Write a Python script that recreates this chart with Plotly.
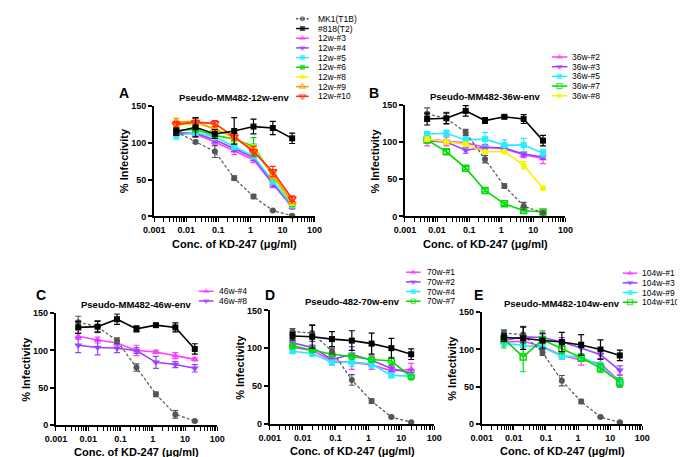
import plotly.graph_objects as go

W, H = 685, 457
FONT = "Liberation Sans"

# ---------------- data ----------------
conc = [0.0049, 0.0195, 0.078, 0.3125, 1.25, 5, 20]

mk1_a = [115, 101, 88, 52, 27, 8, 1]
mk1_a_err = [4, 2, 8, 3, 3, 1, 1]
t2_a = [115, 121, 112, 116, 122, 120, 106]
t2_a_err = [5, 13, 6, 18, 10, 9, 7]

mk1_bc = [138, 132, 113, 77, 41, 14, 5]
mk1_bc_err = [8, 8, 4, 5, 3, 5, 1]
t2_bc = [131, 132, 142, 129, 134, 131, 102]
t2_bc_err = [8, 7, 7, 4, 2, 6, 7]

mk1_de = [122, 120, 96, 58, 30, 9, 2]
mk1_de_err = [4, 11, 4, 7, 3, 1, 1]
t2_de = [116, 115, 112, 110, 106, 100, 92]
t2_de_err = [5, 15, 10, 13, 14, 13, 7]

w12_3 = [113, 112, 101, 89, 77, 44, 13]
w12_3_err = [4, 4, 4, 5, 4, 5, 3]
w12_4 = [114, 113, 104, 92, 80, 45, 14]
w12_4_err = [4, 4, 4, 4, 4, 5, 3]
w12_5 = [110, 114, 108, 95, 82, 48, 15]
w12_5_err = [5, 4, 4, 4, 4, 4, 3]
w12_6 = [117, 118, 110, 105, 95, 55, 17]
w12_6_err = [4, 4, 4, 6, 12, 5, 3]
w12_8 = [124, 126, 120, 106, 92, 56, 18]
w12_8_err = [4, 4, 4, 5, 5, 5, 3]
w12_9 = [128, 129, 118, 108, 90, 57, 20]
w12_9_err = [5, 4, 4, 4, 5, 5, 3]
w12_10 = [125, 128, 126, 108, 88, 61, 24]
w12_10_err = [4, 5, 4, 4, 7, 7, 4]

w36_2 = [104, 101, 99, 93, 91, 83, 78]
w36_2_err = [9, 6, 6, 4, 3, 4, 7]
w36_3 = [102, 100, 89, 93, 92, 84, 80]
w36_3_err = [3, 3, 4, 3, 3, 3, 3]
w36_5 = [111, 112, 103, 104, 96, 96, 85]
w36_5_err = [3, 4, 5, 9, 7, 9, 5]
w36_7 = [103, 87, 65, 35, 17, 8, 6]
w36_7_err = [2, 3, 2, 2, 2, 2, 1]
w36_8 = [104, 100, 97, 87, 87, 69, 38]
w36_8_err = [3, 3, 3, 2, 2, 5, 2]

w46_4 = [119, 114, 110, 100, 98, 93, 88]
w46_4_err = [4, 4, 3, 7, 2, 4, 2]
w46_8 = [107, 104, 103, 100, 84, 81, 76]
w46_8_err = [10, 10, 6, 4, 8, 4, 5]

w70_1 = [101, 97, 83, 81, 78, 70, 72]
w70_1_err = [4, 6, 5, 9, 6, 5, 8]
w70_2 = [107, 101, 85, 92, 84, 73, 67]
w70_2_err = [3, 3, 4, 10, 6, 4, 5]
w70_4 = [96, 93, 81, 82, 79, 64, 63]
w70_4_err = [3, 4, 3, 6, 5, 3, 3]
w70_7 = [103, 98, 92, 89, 85, 83, 62]
w70_7_err = [2, 3, 2, 2, 3, 5, 3]

w104_1 = [110, 111, 104, 92, 86, 81, 57]
w104_1_err = [4, 6, 4, 5, 7, 6, 8]
w104_3 = [112, 117, 116, 110, 102, 93, 72]
w104_3_err = [3, 4, 5, 6, 8, 6, 6]
w104_9 = [108, 106, 103, 91, 90, 78, 56]
w104_9_err = [3, 3, 3, 4, 4, 5, 6]
w104_10 = [114, 90, 113, 101, 89, 75, 56]
w104_10_err = [12, 20, 12, 7, 5, 6, 6]

x_decades = [0.001, 0.01, 0.1, 1, 10, 100]
x_decade_text = ["0.001", "0.01", "0.1", "1", "10", "100"]
y_tickvals = [0, 50, 100, 150]

# ---------------- styles ----------------
GRAY, BLACK = "#555555", "#000000"
MAG, PUR, CYA, GRN, YEL, ORA, RED = ("#FF40FF", "#9A40FF", "#22EEFF", "#00DD00",
                                     "#F5F500", "#FF9A00", "#FF3010")
ST = {
    "mk1": (GRAY, "circle", "3px,2px"),
    "t2": (BLACK, "square", "solid"),
    "mag": (MAG, "triangle-up", "solid"),
    "pur": (PUR, "triangle-down", "solid"),
    "cya": (CYA, "square", "solid"),
    "grn": (GRN, "square", "solid"),
    "grn_os": (GRN, "square-open", "solid"),
    "grn_oc": (GRN, "circle-open", "solid"),
    "yel": (YEL, "circle", "solid"),
    "ora": (ORA, "triangle-up-open", "solid"),
    "red": (RED, "triangle-down-open", "solid"),
}

panels = [
    ("", (139, 304, 95, 208), "Pseudo-MM482-12w-env", "A",
     [("12w-#3", w12_3, w12_3_err, "mag"), ("12w-#4", w12_4, w12_4_err, "pur"),
      ("12w-#5", w12_5, w12_5_err, "cya"), ("12w-#6", w12_6, w12_6_err, "grn"),
      ("12w-#8", w12_8, w12_8_err, "yel"), ("12w-#9", w12_9, w12_9_err, "ora"),
      ("12w-#10", w12_10, w12_10_err, "red"),
      ("MK1(T1B)", mk1_a, mk1_a_err, "mk1"), ("#818(T2)", t2_a, t2_a_err, "t2")],
     (285, 298, 305, 6, True)),
    ("2", (397, 562, 94, 208), "Pseudo-MM482-36w-env", "B",
     [("36w-#2", w36_2, w36_2_err, "mag"), ("36w-#3", w36_3, w36_3_err, "pur"),
      ("36w-#5", w36_5, w36_5_err, "cya"), ("36w-#7", w36_7, w36_7_err, "grn_os"),
      ("36w-#8", w36_8, w36_8_err, "yel"),
      ("MK1(T1B)", mk1_bc, mk1_bc_err, "mk1"), ("#818(T2)", t2_bc, t2_bc_err, "t2")],
     (548, 564, 567, 45, False)),
    ("3", (38, 204, 307, 421), "Pseudo-MM482-46w-env", "C",
     [("46w-#4", w46_4, w46_4_err, "mag"), ("46w-#8", w46_8, w46_8_err, "pur"),
      ("MK1(T1B)", mk1_bc, mk1_bc_err, "mk1"), ("#818(T2)", t2_bc, t2_bc_err, "t2")],
     (185, 200, 204, 284.5, False)),
    ("4", (258, 427, 304, 420), "Pseudo-482-70w-env", "D",
     [("70w-#1", w70_1, w70_1_err, "mag"), ("70w-#2", w70_2, w70_2_err, "pur"),
      ("70w-#4", w70_4, w70_4_err, "cya"), ("70w-#7", w70_7, w70_7_err, "grn_oc"),
      ("MK1(T1B)", mk1_de, mk1_de_err, "mk1"), ("#818(T2)", t2_de, t2_de_err, "t2")],
     (398, 413, 418, 265, False)),
    ("5", (476, 641, 306, 420), "Pseudo-MM482-104w-env", "E",
     [("104w-#1", w104_1, w104_1_err, "mag"), ("104w-#3", w104_3, w104_3_err, "pur"),
      ("104w-#9", w104_9, w104_9_err, "cya"), ("104w-#10", w104_10, w104_10_err, "grn_os"),
      ("MK1(T1B)", mk1_de, mk1_de_err, "mk1"), ("#818(T2)", t2_de, t2_de_err, "t2")],
     (621, 636, 639, 266, False)),
]
letter_pos = {"A": (108, 82), "B": (365, 82), "C": (23, 288), "D": (258, 288), "E": (473, 288)}


def px(x):
    return x / W


def py(y):
    return 1 - y / H


# decade ticks labelled, minor ticks (2..9 per decade) unlabelled
x_tickvals, x_ticktext = [], []
for k, (d, t) in enumerate(zip(x_decades, x_decade_text)):
    x_tickvals.append(d)
    x_ticktext.append(t)
    if k < len(x_decades) - 1:
        for m in range(2, 10):
            x_tickvals.append(d * m)
            x_ticktext.append("")

fig = go.Figure()
layout = dict(width=W, height=H, autosize=False, margin=dict(l=0, r=0, t=0, b=0),
              paper_bgcolor="white", plot_bgcolor="rgba(0,0,0,0)", showlegend=False)
annotations = []
tick_font = dict(family=FONT, size=9, color="black", weight="bold")
title_font = dict(family=FONT, size=11, color="black", weight="bold")

for suf, (x0, x1, yt, yb), title, letter, series, leg in panels:
    xa, ya = "x" + suf, "y" + suf
    layout["xaxis" + suf] = dict(
        type="log", range=[-3, 2], domain=[px(x0), px(x1)], anchor=ya,
        showline=True, linewidth=2, linecolor="black",
        ticks="outside", ticklen=4, tickwidth=1.2, tickcolor="black",
        tickmode="array", tickvals=x_tickvals, ticktext=x_ticktext,
        tickfont=tick_font, showgrid=False, zeroline=False, fixedrange=True)
    layout["yaxis" + suf] = dict(
        range=[0, 150], domain=[py(yb), py(yt)], anchor=xa,
        showline=True, linewidth=2, linecolor="black",
        ticks="outside", ticklen=4, tickwidth=1.5, tickcolor="black",
        tickmode="array", tickvals=y_tickvals, tickfont=tick_font,
        showgrid=False, zeroline=False, fixedrange=True)

    for name, vals, err, sk in series:
        col, sym, dash = ST[sk]
        open_m = sym.endswith("open")
        fig.add_trace(go.Scatter(
            x=conc, y=vals, xaxis=xa, yaxis=ya, name=name, mode="lines+markers",
            line=dict(color=col, width=1.2 if sk == "mk1" else 1.6, dash=dash),
            marker=dict(symbol=sym, size=7 if "triangle" in sym else 6, color=col,
                        line=dict(color=col, width=1.5 if open_m else 0)),
            error_y=dict(type="data", array=err, visible=True, color=col,
                         thickness=1.2, width=3),
            cliponaxis=False, hoverinfo="x+y+name"))

    annotations.append(dict(text=title, x=px((x0 + x1) / 2), y=py(yt - 9), xref="paper", yref="paper",
                            showarrow=False, xanchor="center", yanchor="middle",
                            font=dict(family=FONT, size=9.5, color="black", weight="bold")))
    lx, ly = letter_pos[letter]
    annotations.append(dict(text=letter, x=px(lx), y=py(ly), xref="paper", yref="paper",
                            showarrow=False, xanchor="center", yanchor="middle",
                            font=dict(family=FONT, size=14, color="black", weight="bold")))
    annotations.append(dict(text="% Infectivity", x=px(x0 - 31), y=py((yt + yb) / 2),
                            xref="paper", yref="paper", showarrow=False, textangle=-90,
                            xanchor="center", yanchor="middle", font=title_font))
    annotations.append(dict(text="Conc. of KD-247 (μg/ml)", x=px((x0 + x1) / 2), y=py(yb + 28),
                            xref="paper", yref="paper", showarrow=False,
                            xanchor="center", yanchor="middle", font=title_font))

    lx0, lx1, tx, ry0, with_ctrl = leg
    leg_items = [s for s in series if s[3] not in ("mk1", "t2")]
    if with_ctrl:
        leg_items = [s for s in series if s[3] in ("mk1", "t2")] + leg_items
    for i, (name, vals, err, sk) in enumerate(leg_items):
        col, sym, dash = ST[sk]
        yy = ry0 + i * 9.9
        open_m = sym.endswith("open")
        fig.add_trace(go.Scatter(
            x=[lx0, (lx0 + lx1) / 2, lx1], y=[yy, yy, yy], xaxis="x6", yaxis="y6",
            mode="lines+markers", showlegend=False, hoverinfo="skip",
            line=dict(color=col, width=1.5, dash="2px,1.5px" if sk == "mk1" else "solid"),
            marker=dict(symbol=sym, size=[0, 6 if "triangle" in sym else 5, 0], color=col,
                        line=dict(color=col, width=1.2 if open_m else 0))))
        annotations.append(dict(text=name, x=tx, y=yy, xref="x6", yref="y6", showarrow=False,
                                xanchor="left", yanchor="middle",
                                font=dict(family=FONT, size=8.5, color="black")))

layout["xaxis6"] = dict(domain=[0, 1], range=[0, W], visible=False, fixedrange=True, anchor="y6")
layout["yaxis6"] = dict(domain=[0, 1], range=[H, 0], visible=False, fixedrange=True, anchor="x6")
layout["annotations"] = annotations
fig.update_layout(**layout)
fig.write_html("out.html")
